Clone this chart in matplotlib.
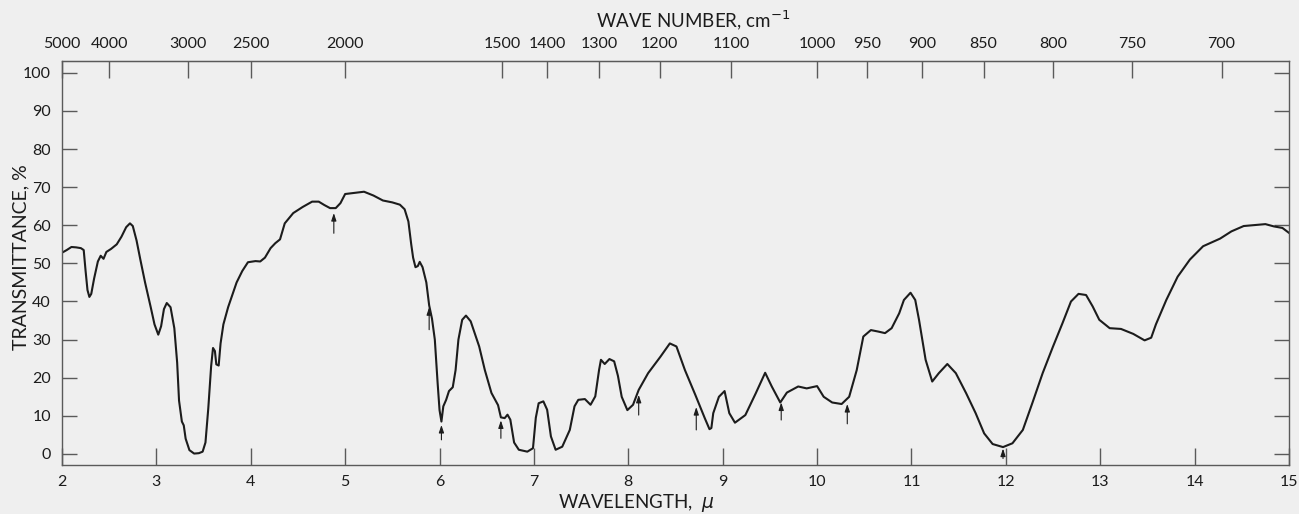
import matplotlib
matplotlib.use("Agg")
import matplotlib.pyplot as plt

# ---- data ----
wavelength = [2.0, 2.05, 2.1, 2.15, 2.2, 2.23, 2.25, 2.27, 2.29, 2.31, 2.34, 2.38, 2.41, 2.44, 2.47,
              2.52, 2.58, 2.63, 2.68, 2.72, 2.75, 2.79, 2.83, 2.88, 2.94, 2.98, 3.02, 3.05, 3.08,
              3.11, 3.15, 3.19, 3.22, 3.24, 3.27, 3.29, 3.31, 3.35, 3.4, 3.45, 3.49, 3.52, 3.55,
              3.58, 3.60, 3.62, 3.635, 3.66, 3.68, 3.71, 3.76, 3.85, 3.91, 3.97, 4.05, 4.1, 4.15,
              4.21, 4.26, 4.31, 4.36, 4.45, 4.55, 4.65, 4.72, 4.78, 4.84, 4.9, 4.95, 5.0, 5.1, 5.2,
              5.3, 5.4, 5.5, 5.58, 5.63, 5.67, 5.7, 5.72, 5.745, 5.77, 5.79, 5.82, 5.86, 5.89, 5.92,
              5.95, 5.98, 6.0, 6.02, 6.04, 6.07, 6.1, 6.14, 6.17, 6.2, 6.24, 6.28, 6.33, 6.42, 6.48,
              6.55, 6.62, 6.65, 6.69, 6.72, 6.75, 6.79, 6.84, 6.93, 6.99, 7.02, 7.05, 7.1, 7.14,
              7.18, 7.23, 7.3, 7.38, 7.43, 7.47, 7.54, 7.6, 7.65, 7.69, 7.71, 7.75, 7.8, 7.85, 7.89,
              7.93, 7.99, 8.05, 8.11, 8.21, 8.34, 8.44, 8.51, 8.6, 8.71, 8.81, 8.86, 8.88, 8.9, 8.96,
              9.02, 9.07, 9.13, 9.24, 9.35, 9.45, 9.52, 9.61, 9.68, 9.8, 9.89, 10.0, 10.07, 10.16,
              10.26, 10.34, 10.42, 10.49, 10.57, 10.65, 10.72, 10.79, 10.87, 10.92, 10.99, 11.04,
              11.08, 11.15, 11.22, 11.29, 11.38, 11.47, 11.58, 11.68, 11.77, 11.86, 11.97, 12.07,
              12.18, 12.28, 12.39, 12.5, 12.6, 12.69, 12.77, 12.85, 12.92, 12.99, 13.1, 13.22,
              13.35, 13.47, 13.54, 13.59, 13.7, 13.82, 13.95, 14.09, 14.27, 14.39, 14.52, 14.66,
              14.75, 14.84, 14.93, 15.0]
transmittance = [52.8, 53.5, 54.3, 54.2, 54.0, 53.5, 48, 43, 41.2, 42, 46, 50.5, 52, 51.2, 53,
                 53.8, 55, 57, 59.5, 60.5, 59.8, 56, 51, 45, 38.5, 34, 31.3, 33.5, 38,
                 39.6, 38.5, 33, 24, 14, 8.5, 7.5, 4, 1, 0.1, 0.2, 0.6, 3, 12,
                 23, 27.8, 27, 23.5, 23.2, 29, 34, 38.5, 45, 48, 50.3, 50.6, 50.5, 51.5,
                 54, 55.3, 56.3, 60.5, 63.2, 64.8, 66.2, 66.2, 65.3, 64.5, 64.5, 65.8, 68.2, 68.5, 68.8,
                 67.8, 66.5, 66, 65.4, 64.2, 61, 55, 51.5, 49, 49.3, 50.4, 49, 45, 39, 35.5,
                 30, 18.5, 11.5, 8.5, 12.5, 14.2, 16.5, 17.5, 22, 30, 35.2, 36.3, 34.8, 28.2, 22,
                 16, 12.8, 9.6, 9.4, 10.3, 9, 3, 1.1, 0.6, 1.5, 9.5, 13.3, 13.8, 11.6,
                 4.6, 1.1, 1.9, 6.3, 12.5, 14.2, 14.4, 12.9, 15.1, 22, 24.7, 23.6, 24.9, 24.3, 20.5,
                 15, 11.5, 12.9, 16.8, 21.2, 25.5, 29, 28.2, 22, 15.5, 9.4, 6.5, 6.8, 10.7, 15,
                 16.5, 10.7, 8.2, 10.2, 15.9, 21.3, 17.7, 13.5, 16.1, 17.7, 17.2, 17.8, 15, 13.5,
                 13.1, 15, 22, 30.8, 32.5, 32.1, 31.7, 33, 36.9, 40.4, 42.3, 40.4,
                 35.2, 24.7, 19, 21.2, 23.6, 21.2, 15.9, 10.7, 5.4, 2.6, 1.8, 2.8,
                 6.3, 13.3, 21.2, 28.2, 34.3, 40, 42, 41.7, 38.7, 35.2, 33, 32.8,
                 31.5, 29.8, 30.5, 34, 40.4, 46.5, 51, 54.5, 56.5, 58.4, 59.8, 60.1,
                 60.3, 59.7, 59.3, 58]

# marker arrows: wavelength, tip value, base value
arrow_x = [4.88, 5.89, 6.02, 6.65, 8.11, 8.72, 9.62, 10.32, 11.97]
arrow_tip = [63.2, 38.5, 7.6, 8.8, 15.5, 12.3, 13.5, 13.1, 1.4]
arrow_base = [57.9, 32.6, 3.7, 4.1, 10.2, 6.3, 8.9, 7.9, -1.2]

x_ticks = list(range(2, 16))
y_ticks = list(range(0, 101, 10))
wn_ticks = [5000, 4000, 3000, 2500, 2000, 1500, 1400, 1300, 1200, 1100, 1000,
            950, 900, 850, 800, 750, 700]

BG = "#efefef"
INK = "#1c1c1c"
AXC = "#5a5a5a"
plt.rcParams['font.family'] = ['Lato', 'DejaVu Sans']
plt.rcParams['mathtext.fontset'] = 'dejavusans'

fig = plt.figure(figsize=(12.99, 5.14), dpi=100, facecolor=BG)
ax = fig.add_axes([62/1299, 49/514, (1289-62)/1299, (465-61)/514])
ax.set_facecolor(BG)

ax.plot(wavelength, transmittance, color=INK, lw=1.5, solid_joinstyle='round')

for xa, tip, base in zip(arrow_x, arrow_tip, arrow_base):
    ax.annotate("", xy=(xa, tip), xytext=(xa, base),
                arrowprops=dict(arrowstyle="-|>,head_length=0.45,head_width=0.15",
                                color=INK, lw=0.8, shrinkA=0, shrinkB=0))

ax.set_xlim(2, 15)
ax.set_ylim(-2.9, 103.1)
ax.set_xticks(x_ticks)
ax.set_xticklabels([str(v) for v in x_ticks])
ax.set_yticks(y_ticks)
ax.set_yticklabels([str(v) for v in y_ticks])
ax.tick_params(axis='x', direction='in', length=12, width=1, color=AXC,
               labelsize=11.5, labelcolor=INK, pad=7)
ax.tick_params(axis='y', direction='in', length=11, width=1, color=AXC,
               labelsize=11.5, labelcolor=INK, pad=8, right=True)
for s in ax.spines.values():
    s.set_color(AXC)
    s.set_linewidth(1.0)

sec = ax.secondary_xaxis('top', functions=(lambda x: 1e4 / x, lambda x: 1e4 / x))
sec.set_xticks(wn_ticks)
sec.set_xticklabels([str(v) for v in wn_ticks])
sec.tick_params(direction='in', length=12, width=1, color=AXC,
                labelsize=11.5, labelcolor=INK, pad=7)
sec.spines['top'].set_color(AXC)

fig.text(693/1299, 1 - 20/514, "WAVE NUMBER, cm$^{-1}$", ha='center', va='center',
         fontsize=13.5, color=INK)
fig.text(636/1299, 1 - 503/514, "WAVELENGTH,  $\\mu$", ha='center', va='center',
         fontsize=13.5, color=INK)
fig.text(21/1299, 1 - 257/514, "TRANSMITTANCE, %", rotation=90, ha='center', va='center',
         fontsize=14, color=INK)

fig.savefig("out.png", dpi=100, facecolor=BG)
